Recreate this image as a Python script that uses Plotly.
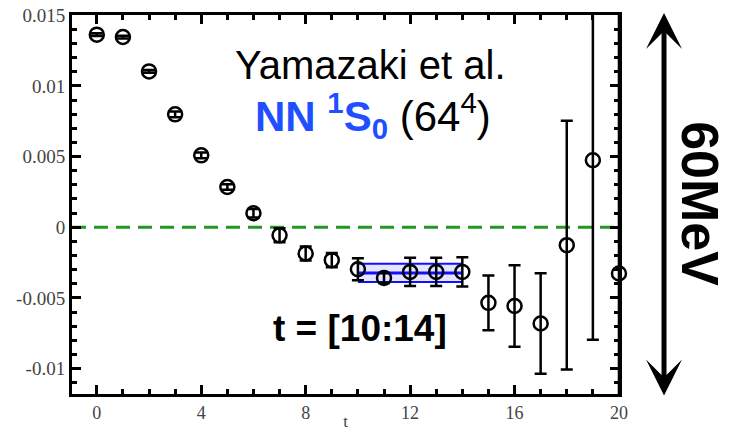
import plotly.graph_objects as go

# ---- data ----
t_vals = list(range(21))
corr = [0.01363, 0.01346, 0.01103, 0.00799, 0.00509, 0.00285, 0.00099,
        -0.00057, -0.00186, -0.00233, -0.00297, -0.00359, -0.00316, -0.00316,
        -0.00316, -0.00535, -0.00557, -0.00681, -0.00127, 0.00474, -0.00327]
corr_err = [0.0001, 0.0001, 0.0001, 0.0002, 0.0002, 0.0002, 0.0003,
            0.0005, 0.0005, 0.0005, 0.00078, 0.00035, 0.001, 0.001,
            0.00104, 0.00194, 0.00288, 0.00356, 0.0088, 0.0127, 0.02]

fit_range = [10, 14]
fit_value = -0.00323
fit_err = 0.00064

y_tickvals = [0.015, 0.01, 0.005, 0, -0.005, -0.01]
y_ticktext = ["0.015", "0.01", "0.005", "0", "-0.005", "-0.01"]
x_tickvals = [0, 4, 8, 12, 16, 20]
x_ticktext = ["0", "4", "8", "12", "16", "20"]

title_line1 = "Yamazaki et al."
title_line2 = ("<span style='color:#1f4fff'><b>NN <sup>1</sup>S<sub>0</sub></b></span>"
               " (64<sup>4</sup>)")
fit_label = "<b>t = [10:14]</b>"
scale_label = "<b>60MeV</b>"

fig = go.Figure()

# fit band
fig.add_trace(go.Scatter(x=fit_range, y=[fit_value - fit_err] * 2, mode="lines",
                         line=dict(color="#1010ff", width=2), showlegend=False,
                         hoverinfo="skip"))
fig.add_trace(go.Scatter(x=fit_range, y=[fit_value + fit_err] * 2, mode="lines",
                         line=dict(color="#1010ff", width=2), fill="tonexty",
                         fillcolor="rgba(80,80,255,0.15)", showlegend=False,
                         hoverinfo="skip"))
fig.add_trace(go.Scatter(x=fit_range, y=[fit_value] * 2, mode="lines",
                         line=dict(color="#1010ff", width=3), showlegend=False,
                         hoverinfo="skip"))

# data points
fig.add_trace(go.Scatter(
    x=t_vals, y=corr, mode="markers",
    marker=dict(symbol="circle-open", size=14, color="black",
                line=dict(color="black", width=2.5)),
    error_y=dict(type="data", array=corr_err, visible=True, color="black",
                 thickness=2.5, width=6),
    cliponaxis=False, showlegend=False))

# zero line
fig.add_shape(type="line", xref="paper", x0=0, x1=1, yref="y", y0=0, y1=0,
              line=dict(color="#229922", width=3, dash="14px,8px"), layer="below")

fig.update_xaxes(range=[-0.95, 20.001], tickmode="array", tickvals=x_tickvals,
                 ticktext=x_ticktext, ticks="inside", ticklen=9, tickwidth=3,
                 tickcolor="black", showline=True, linewidth=3, linecolor="black",
                 mirror="allticks", showgrid=False, zeroline=False, automargin=False,
                 ticklabeloverflow="allow",
                 tickfont=dict(family="Liberation Serif", size=18, color="#444"),
                 minor=dict(dtick=1, tick0=0, ticks="inside", ticklen=5,
                            tickwidth=2.5, tickcolor="black", showgrid=False),
                 title=dict(text="t", font=dict(family="Liberation Serif", size=17,
                                                color="#444")))
fig.update_yaxes(range=[-0.0118, 0.01502], tickmode="array", tickvals=y_tickvals,
                 ticktext=y_ticktext, ticks="inside", ticklen=9, tickwidth=3,
                 tickcolor="black", showline=True, linewidth=3, linecolor="black",
                 mirror="allticks", showgrid=False, zeroline=False, automargin=False,
                 ticklabeloverflow="allow",
                 tickfont=dict(family="Liberation Serif", size=19, color="#444"),
                 minor=dict(dtick=0.001, tick0=0, ticks="inside", ticklen=5,
                            tickwidth=2.5, tickcolor="black", showgrid=False))

sans = "Liberation Sans"
fig.add_annotation(text=title_line1, xref="paper", yref="paper", x=0.545, y=0.867,
                   xanchor="center", yanchor="middle",
                   showarrow=False, font=dict(family=sans, size=40, color="black"))
fig.add_annotation(text=title_line2, xref="paper", yref="paper", x=0.551, y=0.734,
                   xanchor="center", yanchor="middle",
                   showarrow=False, font=dict(family=sans, size=42, color="black"))
fig.add_annotation(text=fit_label, xref="paper", yref="paper", x=0.526, y=0.172,
                   xanchor="center", yanchor="middle",
                   showarrow=False, font=dict(family=sans, size=37, color="black"))
fig.add_annotation(text=scale_label, xref="paper", yref="paper", x=1.148, y=0.501,
                   xanchor="center", yanchor="middle",
                   showarrow=False, textangle=90,
                   font=dict(family=sans, size=52, color="black"))
fig.add_annotation(text="", xref="paper", yref="paper", x=1.0823, y=1.0053,
                   ax=0, ay=384, showarrow=True, arrowside="end+start",
                   arrowhead=3, startarrowhead=3, arrowsize=1.2, startarrowsize=1.2,
                   arrowwidth=5, arrowcolor="black")

fig.update_layout(width=731, height=431, margin=dict(l=72, r=112, t=15, b=37),
                  plot_bgcolor="white", paper_bgcolor="white")

# remove the default 8px page margin so the figure fills the window exactly
fig.write_html("out.html", config={"displayModeBar": False},
               post_script="document.body.style.margin='0';")
